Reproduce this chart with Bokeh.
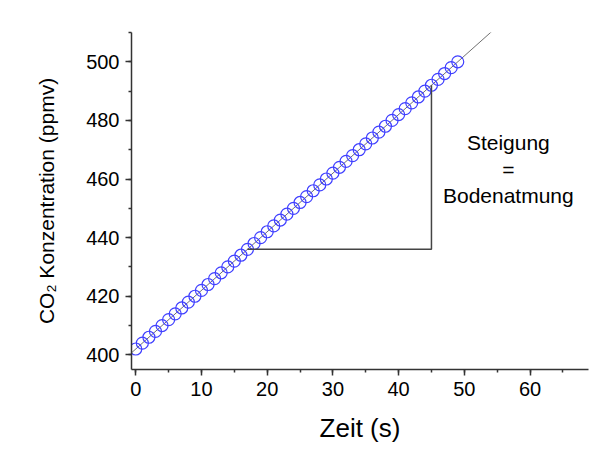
from bokeh.plotting import figure
from bokeh.models import Range1d, SingleIntervalTicker
from bokeh.core.properties import value
from bokeh.embed import file_html
from bokeh.resources import INLINE

# data
time_s = list(range(0, 50))
co2_ppmv = [402, 404, 406, 408, 410, 412, 414, 416, 418, 420,
            422, 424, 426, 428, 430, 432, 434, 436, 438, 440,
            442, 444, 446, 448, 450, 452, 454, 456, 458, 460,
            462, 464, 466, 468, 470, 472, 474, 476, 478, 480,
            482, 484, 486, 488, 490, 492, 494, 496, 498, 500]
fit_x = [-1, 56]
fit_y = [400, 514]
tri_x = [17, 45, 45]
tri_y = [436, 436, 492]
note_x = [56.7, 56.7, 56.7]
note_y = [472.4, 463.3, 454.4]
note_text = ["Steigung", "=", "Bodenatmung"]

FONT = "Liberation Sans"

p = figure(width=600, height=454, output_backend="svg", toolbar_location=None,
           x_range=Range1d(-0.65, 68.9), y_range=Range1d(395, 510),
           min_border_left=131, min_border_right=12, min_border_top=32,
           min_border_bottom=85)
p.outline_line_color = None
p.grid.visible = False
p.background_fill_color = "white"

p.line(fit_x, fit_y, line_color="#707070", line_width=1)
p.scatter(time_s, co2_ppmv, marker="circle", size=12, fill_color=None,
          line_color="#4040ff", line_width=1.2)
p.line(tri_x, tri_y, line_color="#444444", line_width=1.5)
p.text(note_x, note_y, text=note_text, text_font=value(FONT),
       text_font_size="21px", text_align="center", text_baseline="middle",
       text_color="black")

for ax in (p.xaxis[0], p.yaxis[0]):
    ax.axis_line_color = "#333333"
    ax.axis_line_width = 1.5
    ax.major_tick_line_color = "#333333"
    ax.minor_tick_line_color = "#333333"
    ax.major_tick_line_width = 1.5
    ax.minor_tick_line_width = 1.5
    ax.major_tick_out = 6
    ax.major_tick_in = 0
    ax.minor_tick_out = 3
    ax.minor_tick_in = 0
    ax.major_label_text_font = FONT
    ax.major_label_text_font_size = "20px"
    ax.major_label_text_color = "black"
    ax.axis_label_text_font = FONT
    ax.axis_label_text_font_style = "normal"
    ax.axis_label_text_color = "black"

p.xaxis[0].ticker = SingleIntervalTicker(interval=10, num_minor_ticks=2)
p.yaxis[0].ticker = SingleIntervalTicker(interval=20, num_minor_ticks=2)
p.xaxis[0].axis_label = "Zeit (s)"
p.xaxis[0].axis_label_text_font_size = "26px"
p.xaxis[0].major_label_standoff = 6
p.xaxis[0].axis_label_standoff = 14
p.yaxis[0].axis_label = "CO\u2082 Konzentration (ppmv)"
p.yaxis[0].axis_label_text_font_size = "21px"
p.yaxis[0].major_label_standoff = 6
p.yaxis[0].axis_label_standoff = 25

open("out.html", "w").write(file_html(p, INLINE))
